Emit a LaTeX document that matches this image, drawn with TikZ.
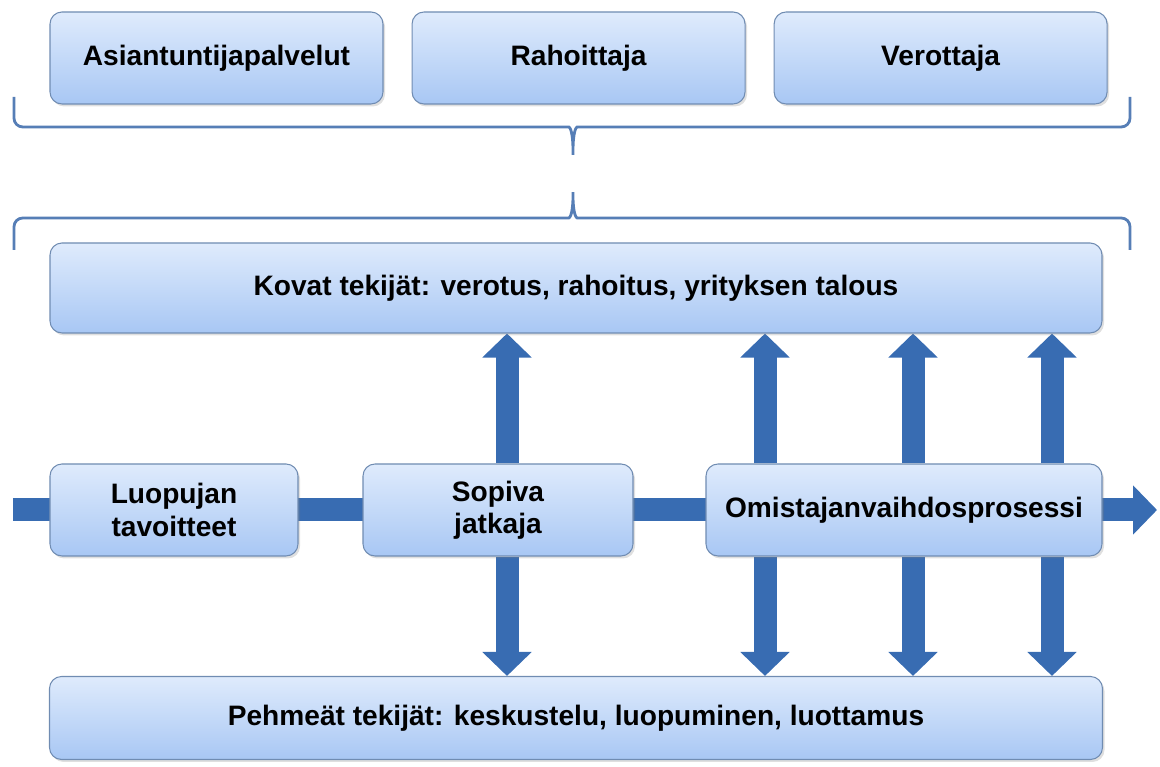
\documentclass[tikz,border=0pt]{standalone}
\usepackage{fontspec}
\setmainfont{Liberation Sans}
\usetikzlibrary{arrows.meta,positioning,backgrounds,shadows}
\definecolor{boxtop}{RGB}{223,235,252}
\definecolor{boxbot}{RGB}{168,199,244}
\definecolor{boxline}{RGB}{112,140,178}
\definecolor{flowarrow}{RGB}{56,108,178}
\definecolor{bracecol}{RGB}{86,126,182}

\begin{document}
\begin{tikzpicture}[
  node distance=0.56cm and 0.56cm,
  box/.style={draw=boxline, line width=0.6pt, rounded corners=0.24cm, top color=boxtop, bottom color=boxbot, minimum height=1.84cm, align=center, font=\fontsize{16}{18.5}\selectfont\bfseries, drop shadow={opacity=0.25, shadow xshift=0.04cm, shadow yshift=-0.05cm}},
  bigarr/.style={draw=flowarrow, line width=0.46cm, -{Triangle[length=0.48cm, width=0.96cm]}},
  brace/.style={draw=bracecol, line width=1.6pt, rounded corners=5pt}
]
  \useasboundingbox (0,0) rectangle (23.2,15.34);

  \node[box, minimum width=6.66cm] (asiant) at (4.33,14.18) {Asiantuntijapalvelut};
  \node[box, minimum width=6.66cm, right=of asiant] (rahoit) {Rahoittaja};
  \node[box, minimum width=6.66cm, right=of rahoit] (verot) {Verottaja};

  \node[box, minimum width=21.04cm, minimum height=1.8cm] (kovat) at (11.52,9.58) {Kovat tekijät: verotus, rahoitus, yrityksen talous};

  \node[box, minimum width=4.96cm, minimum height=1.84cm] (luopuja) at (3.48,5.14) {Luopujan\\tavoitteet};
  \node[box, minimum width=5.4cm, minimum height=1.84cm] (sopiva) at (9.96,5.14) {Sopiva\\jatkaja};
  \node[box, minimum width=7.92cm, minimum height=1.84cm] (omist) at (18.08,5.14) {Omistajanvaihdosprosessi};

  \node[box, minimum width=21.06cm, minimum height=1.66cm] (pehmeat) at (11.52,0.98) {Pehmeät tekijät: keskustelu, luopuminen, luottamus};

  \draw[brace] (0.28,13.4) -- (0.28,12.8) -- (11.2,12.8) .. controls (11.4,12.8) and (11.46,12.7) .. (11.46,12.14) .. controls (11.46,12.7) and (11.52,12.8) .. (11.72,12.8) -- (22.6,12.8) -- (22.6,13.4);
  \draw[brace] (0.28,10.34) -- (0.28,10.98) -- (11.2,10.98) .. controls (11.4,10.98) and (11.46,11.08) .. (11.46,11.6) .. controls (11.46,11.08) and (11.52,10.98) .. (11.72,10.98) -- (22.6,10.98) -- (22.6,10.34);

  \coordinate (flowstart) at (0.26,5.14);
  \coordinate (flowend) at (23.14,5.14);
  \foreach \xx [count=\i] in {10.14,15.3,18.26,21.04}
    \coordinate (col\i) at (\xx,0);

  \begin{scope}[on background layer]
    \draw[bigarr] (flowstart) -- (flowend);
    \draw[bigarr] (col1 |- sopiva.north) -- (col1 |- kovat.south);
    \draw[bigarr] (col1 |- sopiva.south) -- (col1 |- pehmeat.north);
    \foreach \i in {2,3,4} {
      \draw[bigarr] (col\i |- omist.north) -- (col\i |- kovat.south);
      \draw[bigarr] (col\i |- omist.south) -- (col\i |- pehmeat.north);
    }
  \end{scope}
\end{tikzpicture}
\end{document}
